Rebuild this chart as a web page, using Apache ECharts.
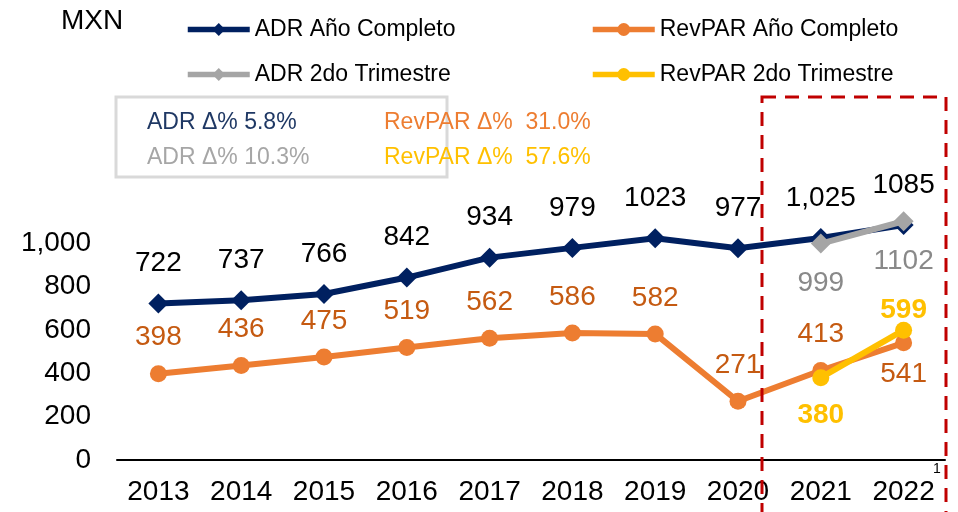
<!DOCTYPE html>
<html><head><meta charset="utf-8">
<script src="https://cdn.jsdelivr.net/npm/echarts@6/dist/echarts.min.js"></script>
<style>html,body{margin:0;padding:0;background:#fff}#c{width:958px;height:512px}</style>
</head><body><div id="c"></div>
<script>
const years = ['2013','2014','2015','2016','2017','2018','2019','2020','2021','2022'];
const adrFull = [722,737,766,842,934,979,1023,977,1025,1085];
const revparFull = [398,436,475,519,562,586,582,271,413,541];
const adrQ2 = [null,null,null,null,null,null,null,null,999,1102];
const revparQ2 = [null,null,null,null,null,null,null,null,380,599];
const seriesNames = ['ADR Año Completo','RevPAR Año Completo','ADR 2do Trimestre','RevPAR 2do Trimestre'];
const yTicks = [0,200,400,600,800,1000];
const boxTexts = ['ADR \u0394% 5.8%','ADR \u0394% 10.3%','RevPAR \u0394%  31.0%','RevPAR \u0394%  57.6%'];
const unitLabel = 'MXN';
const noteMark = '1';

const FONT = 'Liberation Sans, Arial, sans-serif';
const C = {navy:'#002060', orange:'#ED7D31', gray:'#A5A5A5', yellow:'#FFC000'};

function lbl(arr, fn){ return arr.map((v,i)=> v==null? null : Object.assign({value:v}, fn(i))); }

const chart = echarts.init(document.getElementById('c'));
const legendBase = (name, left, top) => ({
  data:[name], left:left, top:top, padding:0, itemWidth:62, itemHeight:16,
  lineStyle:{width:5.5},
  textStyle:{fontFamily:FONT, fontSize:23, color:'#000'}, selectedMode:false
});
chart.setOption({
  animation:false,
  textStyle:{fontFamily:FONT},
  legend:[
    legendBase(seriesNames[0],185,18),
    legendBase(seriesNames[1],590,18),
    legendBase(seriesNames[2],185,63),
    legendBase(seriesNames[3],590,63)
  ],
  grid:{left:117,right:13,top:200,bottom:52},
  xAxis:{type:'category',data:years,boundaryGap:true,
    axisLine:{lineStyle:{color:'#000',width:2}},axisTick:{show:false},
    axisLabel:{fontFamily:FONT,fontSize:28,color:'#000',margin:18}},
  yAxis:{type:'value',min:0,max:1200,interval:200,
    axisLine:{show:false},axisTick:{show:false},splitLine:{show:false},
    axisLabel:{fontFamily:FONT,fontSize:28,color:'#000',margin:26,
      formatter:v=> yTicks.indexOf(v)>=0 ? v.toLocaleString('en-US') : ''}},
  graphic:[
    {type:'rect',shape:{x:116,y:97,width:331,height:80},style:{fill:'#fff',stroke:'#D9D9D9',lineWidth:3},z:1},
    {type:'text',left:147,top:111,style:{text:boxTexts[0],fill:'#1F3864',font:'23px '+FONT},z:2},
    {type:'text',left:147,top:146,style:{text:boxTexts[1],fill:'#A6A6A6',font:'23px '+FONT},z:2},
    {type:'text',left:384,top:111,style:{text:boxTexts[2],fill:'#ED7D31',font:'23px '+FONT},z:2},
    {type:'text',left:384,top:146,style:{text:boxTexts[3],fill:'#FFC000',font:'23px '+FONT},z:2},
    {type:'rect',shape:{x:762,y:97,width:184,height:440},style:{fill:'none',stroke:'#C00000',lineWidth:3,lineDash:[14,9]},z:50},
    {type:'text',left:61,top:7,style:{text:unitLabel,fill:'#000',font:'28px '+FONT},z:2},
    {type:'text',left:933,top:462,style:{text:noteMark,fill:'#000',font:'14px '+FONT},z:2}
  ],
  series:[
    {name:seriesNames[0],type:'line',data:adrFull,symbol:'diamond',symbolSize:20,
      lineStyle:{color:C.navy,width:6},itemStyle:{color:C.navy},z:2,
      label:{show:true,position:'top',distance:16,fontSize:28,color:'#000',
        formatter:p=>p.value>=1000 && p.dataIndex===8 ? p.value.toLocaleString('en-US') : String(p.value)}},
    {name:seriesNames[1],type:'line',data:lbl(revparFull,i=> i===9 ? {label:{position:'bottom',distance:8.5}} : {}),
      symbol:'circle',symbolSize:17,
      lineStyle:{color:C.orange,width:6},itemStyle:{color:C.orange},z:2,
      label:{show:true,position:'top',distance:13.5,fontSize:28,color:'#C55A11'}},
    {name:seriesNames[2],type:'line',data:adrQ2,symbol:'diamond',symbolSize:20,
      lineStyle:{color:C.gray,width:6},itemStyle:{color:C.gray},z:3,
      label:{show:true,position:'bottom',distance:16,fontSize:28,color:'#898989'}},
    {name:seriesNames[3],type:'line',data:lbl(revparQ2,i=> i===9 ? {label:{position:'top',distance:-2.5}} : {}),
      symbol:'circle',symbolSize:17,
      lineStyle:{color:C.yellow,width:6},itemStyle:{color:C.yellow},z:3,
      label:{show:true,position:'bottom',distance:15.5,fontSize:28,fontWeight:'bold',color:C.yellow}}
  ]
});
</script></body></html>
